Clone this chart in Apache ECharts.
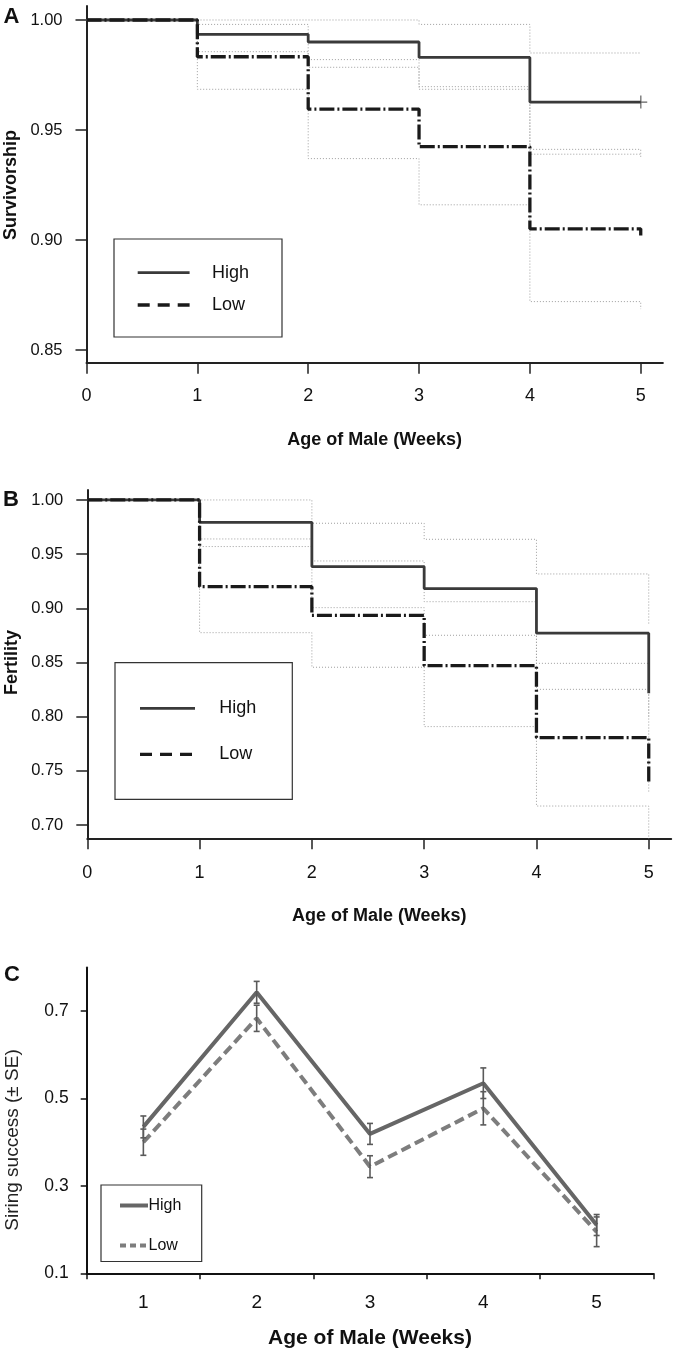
<!DOCTYPE html>
<html><head><meta charset="utf-8">
<script src="https://cdn.jsdelivr.net/npm/echarts@6/dist/echarts.min.js"></script>
<style>html,body{margin:0;padding:0;background:#fff;}#c{width:680px;height:1351px;}</style>
</head><body><div id="c"></div>
<script>
const FONT = "'Liberation Sans', Arial, Helvetica, sans-serif";

// ---- Panel A: Survivorship (Kaplan-Meier) ----
const survHighX = [0, 1, 2, 3, 4, 5];
const survHigh = [1.000, 0.9935, 0.990, 0.983, 0.9627, 0.9627];
const survHighUpper = [1.000, 1.000, 1.000, 0.998, 0.985, 0.985];
const survHighLower = [1.000, 0.9856, 0.9785, 0.9685, 0.939, 0.939];
const survLowX = [0, 1, 2, 3, 4, 5, 5];
const survLow = [1.000, 0.9833, 0.9595, 0.9424, 0.9051, 0.9051, 0.902];
const survLowUpper = [1.000, 0.998, 0.982, 0.9697, 0.9412, 0.9412, 0.937];
const survLowLower = [1.000, 0.9685, 0.937, 0.916, 0.872, 0.872, 0.8686];
const survYTicks = [0.85, 0.90, 0.95, 1.00];

// ---- Panel B: Fertility ----
const fertX = [0, 1, 2, 3, 4, 5, 5];
const fertHigh = [1.000, 0.9794, 0.9385, 0.9182, 0.877, 0.877, 0.8216];
const fertHighUpper = [1.000, 1.000, 0.9785, 0.9637, 0.9317, 0.9317, 0.8846];
const fertHighLower = [1.000, 0.957, 0.9006, 0.8751, 0.8252, 0.8252, 0.73];
const fertLow = [1.000, 0.920, 0.8935, 0.847, 0.7806, 0.7806, 0.740];
const fertLowUpper = [1.000, 0.964, 0.9437, 0.9061, 0.8492, 0.8492, 0.80];
const fertLowLower = [1.000, 0.8775, 0.8456, 0.7908, 0.7175, 0.7175, 0.68];
const fertYTicks = [0.70, 0.75, 0.80, 0.85, 0.90, 0.95, 1.00];

const weekTicks = [0, 1, 2, 3, 4, 5];

// ---- Panel C: Siring success ----
const siringWeeks = ['1', '2', '3', '4', '5'];
const siringHigh = [0.435, 0.743, 0.419, 0.535, 0.2105];
const siringHighSE = [0.025, 0.025, 0.024, 0.035, 0.024];
const siringLow = [0.400, 0.6835, 0.344, 0.4776, 0.195];
const siringLowSE = [0.030, 0.030, 0.025, 0.038, 0.034];
const siringYTicks = [0.1, 0.3, 0.5, 0.7];

const pts = (xs, ys) => xs.map((x, i) => [x, ys[i]]);

const chart = echarts.init(document.getElementById('c'), null, {renderer: 'canvas'});

function kmXAxis(grid, gap) {
  return {
    gridIndex: grid, type: 'value', min: 0, max: 5.2,
    axisLine: {show: true, onZero: false, lineStyle: {color: '#222', width: 2}},
    axisTick: {show: true, length: 11, customValues: weekTicks, lineStyle: {color: '#222', width: 1.5}},
    axisLabel: {customValues: weekTicks, margin: gap, fontSize: 18, color: '#111', fontFamily: FONT},
    splitLine: {show: false},
    name: 'Age of Male (Weeks)', nameLocation: 'middle', nameGap: grid === 0 ? 68 : 69,
    nameTextStyle: {fontSize: 18, fontWeight: 'bold', color: '#111', fontFamily: FONT}
  };
}
function kmYAxis(grid, min, max, ticks) {
  return {
    gridIndex: grid, type: 'value', min: min, max: max,
    axisLine: {show: true, onZero: false, lineStyle: {color: '#222', width: 2}},
    axisTick: {show: true, length: 11, customValues: ticks, lineStyle: {color: '#222', width: 1.5}},
    axisLabel: {customValues: ticks, formatter: v => v.toFixed(2), margin: 24, fontSize: 16.5, color: '#111', fontFamily: FONT},
    splitLine: {show: false}
  };
}
function ciSeries(grid, data) {
  return {type: 'line', xAxisIndex: grid, yAxisIndex: grid, step: 'end', data: data, symbol: 'none', silent: true, z: 1,
    lineStyle: {color: '#9e9e9e', width: 1, type: [1, 2]}};
}
function highSeries(grid, data) {
  return {type: 'line', xAxisIndex: grid, yAxisIndex: grid, step: 'end', data: data, symbol: 'none', z: 3,
    lineStyle: {color: '#3a3a3a', width: 2.8}};
}
function lowSeries(grid, data) {
  return {type: 'line', xAxisIndex: grid, yAxisIndex: grid, step: 'end', data: data, symbol: 'none', z: 4,
    lineStyle: {color: '#1a1a1a', width: 3.3, type: [15, 3, 2, 3]}};
}
function errSeries(means, ses, color) {
  return {
    type: 'custom', xAxisIndex: 2, yAxisIndex: 2, z: 5, silent: true,
    data: means.map((m, i) => [i, m, ses[i]]),
    renderItem: function (params, api) {
      const x = api.value(0), m = api.value(1), s = api.value(2);
      const t = api.coord([x, m + s]), b = api.coord([x, m - s]);
      const w = 3;
      const st = {stroke: color, lineWidth: 1.6};
      return {type: 'group', children: [
        {type: 'line', shape: {x1: t[0], y1: t[1], x2: b[0], y2: b[1]}, style: st},
        {type: 'line', shape: {x1: t[0] - w, y1: t[1], x2: t[0] + w, y2: t[1]}, style: st},
        {type: 'line', shape: {x1: b[0] - w, y1: b[1], x2: b[0] + w, y2: b[1]}, style: st}
      ]};
    }
  };
}

function legendBox(x, y, w, h, rows, font, lineX1, lineX2, textX) {
  const els = [{type: 'rect', shape: {x: x, y: y, width: w, height: h}, style: {fill: '#fff', stroke: '#333', lineWidth: 1.2}, z: 10}];
  rows.forEach(r => {
    els.push({type: 'line', shape: {x1: lineX1, y1: r.y, x2: lineX2, y2: r.y}, style: {stroke: r.color, lineWidth: r.width, lineDash: r.dash || null}, z: 11});
    els.push({type: 'text', x: textX, y: r.y, style: {text: r.text, font: font, fill: '#111', align: 'left', verticalAlign: 'middle'}, z: 11});
  });
  return els;
}

const option = {
  animation: false,
  backgroundColor: '#fff',
  grid: [
    {left: 86.5, top: 6, width: 576.4, height: 356.7},
    {left: 87.3, top: 490, width: 583.9, height: 348.3},
    {left: 86.7, top: 967.4, width: 566.6, height: 305.9}
  ],
  xAxis: [
    kmXAxis(0, 24),
    kmXAxis(1, 26),
    {
      gridIndex: 2, type: 'category', data: siringWeeks, boundaryGap: true,
      axisLine: {show: true, onZero: false, lineStyle: {color: '#111', width: 2}},
      axisTick: {show: true, alignWithLabel: false, length: 6, lineStyle: {color: '#111', width: 1.5}},
      axisLabel: {margin: 20, fontSize: 19, color: '#111', fontFamily: FONT},
      name: 'Age of Male (Weeks)', nameLocation: 'middle', nameGap: 54,
      nameTextStyle: {fontSize: 21, fontWeight: 'bold', color: '#111', fontFamily: FONT}
    }
  ],
  yAxis: [
    kmYAxis(0, 0.84423, 1.00636, survYTicks),
    kmYAxis(1, 0.6877, 1.0092, fertYTicks),
    {
      gridIndex: 2, type: 'value', min: 0.1, max: 0.8,
      axisLine: {show: true, onZero: false, lineStyle: {color: '#111', width: 2}},
      axisTick: {show: true, length: 6, customValues: siringYTicks, lineStyle: {color: '#111', width: 1.5}},
      axisLabel: {customValues: siringYTicks, formatter: v => v.toFixed(1), margin: 18, fontSize: 17.5, color: '#111', fontFamily: FONT},
      splitLine: {show: false}
    }
  ],
  series: [
    ciSeries(0, pts(survHighX, survHighUpper)),
    ciSeries(0, pts(survHighX, survHighLower)),
    ciSeries(0, pts(survLowX, survLowUpper)),
    ciSeries(0, pts(survLowX, survLowLower)),
    highSeries(0, pts(survHighX, survHigh)),
    lowSeries(0, pts(survLowX, survLow)),
    {type: 'scatter', xAxisIndex: 0, yAxisIndex: 0, z: 5, silent: true,
      data: [[survHighX[survHighX.length - 1], survHigh[survHigh.length - 1]]],
      symbol: 'path://M6,0h1.2v13h-1.2z M0,6h13v1.2h-13z', symbolSize: [13, 13],
      itemStyle: {color: '#3a3a3a'}},
    ciSeries(1, pts(fertX, fertHighUpper)),
    ciSeries(1, pts(fertX, fertHighLower)),
    ciSeries(1, pts(fertX, fertLowUpper)),
    ciSeries(1, pts(fertX, fertLowLower)),
    highSeries(1, pts(fertX, fertHigh)),
    lowSeries(1, pts(fertX, fertLow)),
    {type: 'line', xAxisIndex: 2, yAxisIndex: 2, data: siringHigh, symbol: 'none', z: 3,
      lineStyle: {color: '#666', width: 4}},
    {type: 'line', xAxisIndex: 2, yAxisIndex: 2, data: siringLow, symbol: 'none', z: 3,
      lineStyle: {color: '#7d7d7d', width: 4, type: [10, 5]}},
    errSeries(siringHigh, siringHighSE, '#5a5a5a'),
    errSeries(siringLow, siringLowSE, '#5a5a5a')
  ],
  graphic: [
    {type: 'text', x: 11.5, y: 17, style: {text: 'A', font: 'bold 22px ' + FONT, fill: '#111', align: 'center', verticalAlign: 'middle'}},
    {type: 'text', x: 11, y: 500, style: {text: 'B', font: 'bold 22px ' + FONT, fill: '#111', align: 'center', verticalAlign: 'middle'}},
    {type: 'text', x: 12, y: 974.5, style: {text: 'C', font: 'bold 22px ' + FONT, fill: '#111', align: 'center', verticalAlign: 'middle'}},
    {type: 'text', x: 11.5, y: 185, rotation: Math.PI / 2, style: {text: 'Survivorship', font: 'bold 18px ' + FONT, fill: '#111', align: 'center', verticalAlign: 'middle'}},
    {type: 'text', x: 12, y: 662.5, rotation: Math.PI / 2, style: {text: 'Fertility', font: 'bold 18px ' + FONT, fill: '#111', align: 'center', verticalAlign: 'middle'}},
    {type: 'text', x: 12.5, y: 1140, rotation: Math.PI / 2, style: {text: 'Siring success (\u00b1 SE)', font: '19px ' + FONT, fill: '#222', align: 'center', verticalAlign: 'middle'}},
    ...legendBox(114, 239, 168, 98, [
      {y: 272.7, text: 'High', color: '#3a3a3a', width: 2.8},
      {y: 305, text: 'Low', color: '#1a1a1a', width: 3.3, dash: [12, 8]}
    ], '18px ' + FONT, 137.7, 189.6, 212),
    ...legendBox(115, 662.7, 177.3, 136.6, [
      {y: 708.3, text: 'High', color: '#3a3a3a', width: 2.8},
      {y: 754.3, text: 'Low', color: '#1a1a1a', width: 3.3, dash: [12, 8]}
    ], '18px ' + FONT, 140, 195, 219.3),
    ...legendBox(101, 1185, 100.7, 76.5, [
      {y: 1205.5, text: 'High', color: '#666', width: 4},
      {y: 1245.5, text: 'Low', color: '#7d7d7d', width: 4, dash: [6, 4]}
    ], '16px ' + FONT, 120, 148, 148.5)
  ]
};
chart.setOption(option);
</script>
</body></html>
